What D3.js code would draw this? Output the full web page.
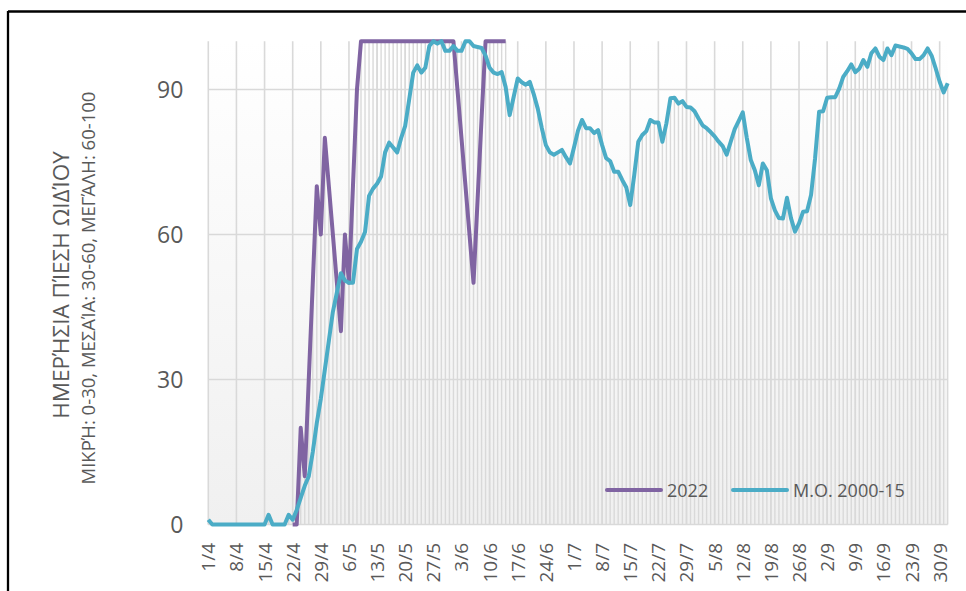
<!DOCTYPE html>
<html>
<head>
<meta charset="utf-8">
<script src="https://cdn.jsdelivr.net/npm/d3@7"></script>
<style>
  body { margin: 0; background: #fff; }
  text { font-family: "Open Sans", sans-serif; fill: #595959; }
</style>
</head>
<body>
<svg id="chart" width="966" height="591"></svg>
<script>
// tick labels, one every 7 days starting 1/4
var tickLabels = ["1/4","8/4","15/4","22/4","29/4","6/5","13/5","20/5","27/5","3/6","10/6","17/6","24/6",
  "1/7","8/7","15/7","22/7","29/7","5/8","12/8","19/8","26/8","2/9","9/9","16/9","23/9","30/9"];
var yTicks = [0, 30, 60, 90];

// daily values, day 0 = 1/4
var avg2000_15 = [1, 0,0,0,0,0,0,0,0,0,0,0,0,0,0,
  2, 0,0,0,0, 2, 1, 3, 5.5, 8, 10,
  15, 21, 26, 32, 38, 44, 48, 52, 50.5, 50, 50,
  57, 58.5, 60.5, 68, 69.5, 70.5, 72, 77, 79,
  78, 77, 80, 82.5, 88, 93.5, 95, 93.5, 94.5, 99, 100, 99.5, 100, 98, 98,
  99, 98, 98, 100, 100, 99, 98.8, 98.6, 97, 94.5, 93.5, 93.2, 93.6, 90.5, 84.7,
  88.5, 92.3, 91.5, 91, 91.6, 89, 86, 82, 78.5, 77, 76.5, 77, 77.5, 76, 74.7,
  78, 81.5, 83.7, 82, 82, 81, 81.6, 78.5, 75.8, 75.2, 73, 73, 71.3, 69.8, 66.1,
  72.3, 79.2, 80.6, 81.4, 83.7, 83.2, 83.2, 79.2, 83, 88.2, 88.3, 87.1, 87.6, 86.4, 86.3,
  85.5, 84, 82.6, 82, 81.2, 80.3, 79.2, 78.3, 76.5, 79.2, 81.8, 83.5, 85.3, 80, 75.4,
  73.3, 70.2, 74.7, 73.3, 67.5, 65, 63.4, 63.3, 67.6, 63.4, 60.6, 62.3, 64.7, 64.8, 68.2,
  75.8, 85.4, 85.5, 88.3, 88.4, 88.4, 90.2, 92.6, 93.8, 95.2, 93.6, 94.3, 96.1, 94.7, 97.5,
  98.5, 96.8, 96.1, 98.5, 97.1, 99.1, 98.9, 98.7, 98.4, 97.5, 96.3, 96.3, 97.1, 98.5, 97,
  94.4, 91.6, 89.4, 91.3];

var firstDay2022 = 21;
var year2022 = [0, 0, 20, 10, 30, 50, 70, 60, 80, 70, 60, 50, 40, 60, 50, 70, 90,
  100,100,100,100,100,100,100,100,100,100,100,100,100,100,100,100,100,100,100,100,100,100,100,100,
  90, 80, 70, 60, 50, 67, 84, 100,100,100,100,100,100];

var svg = d3.select("#chart");
var plotLeft = 208.3, plotRight = 947.7, plotTop = 41.2, plotBottom = 524.5;
var nDays = avg2000_15.length;

var x = d3.scaleLinear().domain([0, nDays - 1]).range([plotLeft, plotRight]);
var y = d3.scaleLinear().domain([0, 100]).range([plotBottom, plotTop]);

// frame
svg.append("line").attr("x1", 8).attr("x2", 966).attr("y1", 11.5).attr("y2", 11.5)
  .style("stroke", "#000").style("stroke-width", 2.3);
svg.append("line").attr("x1", 8).attr("x2", 8).attr("y1", 11).attr("y2", 591)
  .style("stroke", "#000").style("stroke-width", 2.3);

// plot background
var grad = svg.append("defs").append("linearGradient").attr("id", "bg")
  .attr("x1", 0).attr("y1", 0).attr("x2", 0).attr("y2", 1);
grad.append("stop").attr("offset", "0%").attr("stop-color", "#ffffff");
grad.append("stop").attr("offset", "100%").attr("stop-color", "#f0f0f0");
svg.append("rect").attr("x", plotLeft).attr("y", plotTop)
  .attr("width", plotRight - plotLeft).attr("height", plotBottom - plotTop)
  .style("fill", "url(#bg)");

// drop lines for each day
var dayMax = avg2000_15.map(function(v, i) {
  var p = year2022[i - firstDay2022];
  return p != undefined ? Math.max(v, p) : v;
});
svg.append("g").selectAll("line").data(dayMax).enter().append("line")
  .attr("x1", function(d, i) { return x(i); }).attr("x2", function(d, i) { return x(i); })
  .attr("y1", y(0)).attr("y2", function(d) { return y(d); })
  .style("stroke", "#d9d9d9").style("stroke-width", 1.4);

// gridlines
svg.append("g").selectAll("line").data(tickLabels).enter().append("line")
  .attr("x1", function(d, i) { return x(i * 7); }).attr("x2", function(d, i) { return x(i * 7); })
  .attr("y1", y(0)).attr("y2", y(100))
  .style("stroke", "#d9d9d9").style("stroke-width", 1.6);
svg.append("g").selectAll("line").data(yTicks).enter().append("line")
  .attr("x1", plotLeft).attr("x2", plotRight)
  .attr("y1", function(d) { return y(d); }).attr("y2", function(d) { return y(d); })
  .style("stroke", "#d9d9d9").style("stroke-width", 1.6);

// axes labels
var yAxis = d3.axisLeft(y).tickValues(yTicks).tickSize(0).tickPadding(25);
var gy = svg.append("g").attr("transform", "translate(" + plotLeft + ",0)").call(yAxis);
gy.select(".domain").remove();
gy.selectAll("text").style("font-size", "23px").style("font-family", "Open Sans")
  .style("fill", "#595959").attr("dy", "0.36em");

svg.append("g").selectAll("text").data(tickLabels).enter().append("text")
  .attr("transform", function(d, i) { return "translate(" + (x(i * 7) + 7) + ",543) rotate(-90)"; })
  .attr("text-anchor", "end")
  .style("font-size", "19px")
  .text(function(d) { return d; });

// y title
svg.append("text").attr("transform", "translate(69,285) rotate(-90)").attr("text-anchor", "middle")
  .style("font-size", "22.5px").text("ΗΜΕΡΉΣΙΑ ΠΊΕΣΗ ΩΙΔΊΟΥ");
svg.append("text").attr("transform", "translate(95,288) rotate(-90)").attr("text-anchor", "middle")
  .style("font-size", "18.5px").text("ΜΙΚΡΉ: 0-30, ΜΕΣΑΊΑ: 30-60, ΜΕΓΆΛΗ: 60-100");

// lines
var line = d3.line().x(function(d) { return x(d[0]); }).y(function(d) { return y(d[1]); });
svg.append("path").datum(year2022.map(function(v, i) { return [i + firstDay2022, v]; }))
  .attr("d", line).style("fill", "none").style("stroke", "#8064a2")
  .style("stroke-width", 4).style("stroke-linejoin", "round");
svg.append("path").datum(avg2000_15.map(function(v, i) { return [i, v]; }))
  .attr("d", line).style("fill", "none").style("stroke", "#4bacc6")
  .style("stroke-width", 4).style("stroke-linejoin", "round");

// legend
var legend = [{name: "2022", color: "#8064a2", x: 607}, {name: "Μ.Ο. 2000-15", color: "#4bacc6", x: 733}];
var lg = svg.append("g").selectAll("g").data(legend).enter().append("g");
lg.append("line").attr("x1", function(d) { return d.x; }).attr("x2", function(d) { return d.x + 54; })
  .attr("y1", 490).attr("y2", 490)
  .style("stroke", function(d) { return d.color; }).style("stroke-width", 4).style("stroke-linecap", "round");
lg.append("text").attr("x", function(d) { return d.x + 60; }).attr("y", 497)
  .style("font-size", "18px").text(function(d) { return d.name; });
</script>
</body>
</html>
